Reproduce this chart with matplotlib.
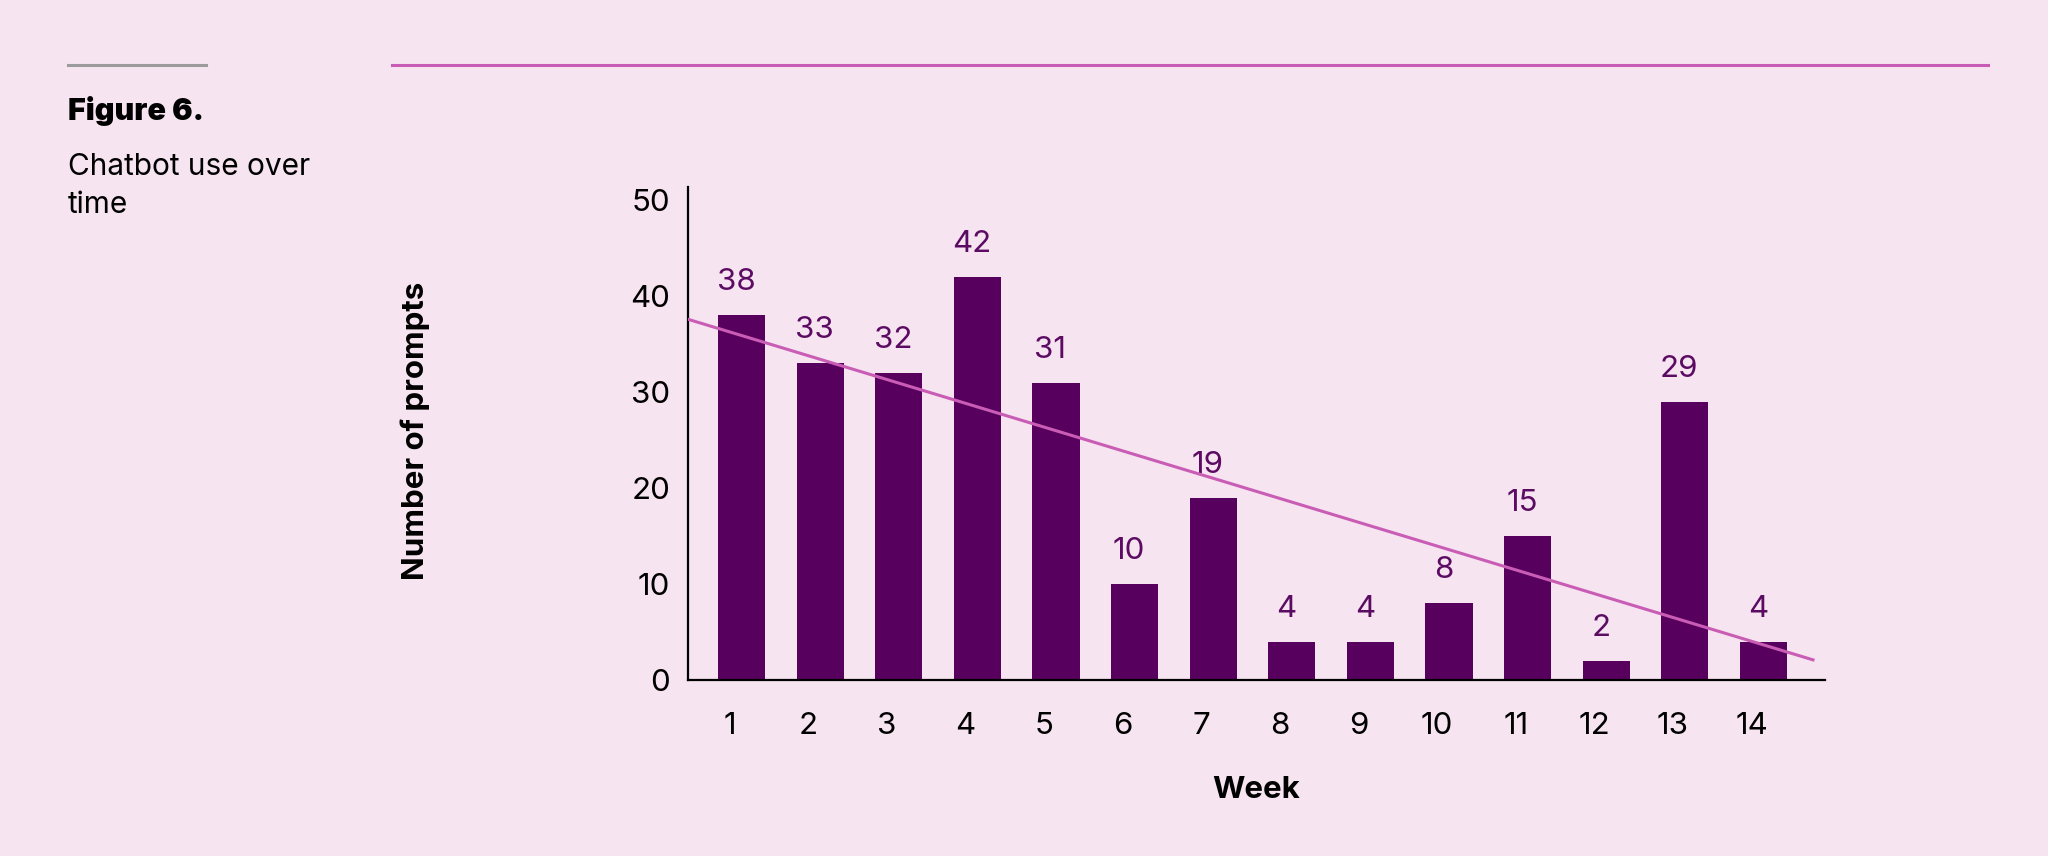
import numpy as np
import matplotlib.pyplot as plt

# Data
weeks = np.arange(1, 15)
prompts = [38, 33, 32, 42, 31, 10, 19, 4, 4, 8, 15, 2, 29, 4]
ytick_vals = [0, 10, 20, 30, 40, 50]
# trend line ends
trend_x = [0.32, 14.63]
trend_y = [37.6, 2.1]

# Colours
bg = "#F6E4F0"
bar_color = "#58005E"
label_color = "#5C0B63"
trend_color = "#C95DB5"
grey_rule = "#9B9B9B"

plt.rcParams['font.family'] = ['Inter', 'DejaVu Sans']
fs = 22.5

fig = plt.figure(figsize=(20.48, 8.56), dpi=100, facecolor=bg)
ax = fig.add_axes([0.336, 0.2056, 0.555, 0.576])
ax.set_facecolor(bg)

ax.bar(weeks, prompts, width=0.6, color=bar_color, zorder=2)

# Value labels above bars
for w, v in zip(weeks, prompts):
    ax.annotate(str(v), (w, v), xytext=(-4, 18), textcoords="offset points",
                ha="center", va="baseline", fontsize=fs, color=label_color)

ax.plot(trend_x, trend_y, color=trend_color, lw=2.2, zorder=3)

ax.set_xlim(0.32, 14.78)
ax.set_ylim(0, 51.4)
ax.set_xticks(weeks - 0.15)
ax.set_xticklabels([str(w) for w in weeks])
ax.set_yticks(ytick_vals)
ax.tick_params(axis="x", length=0, pad=23, labelsize=fs)
ax.tick_params(axis="y", length=0, pad=13, labelsize=fs)

for s in ["top", "right"]:
    ax.spines[s].set_visible(False)
for s in ["left", "bottom"]:
    ax.spines[s].set_linewidth(1.6)
    ax.spines[s].set_color("black")

# Axis titles placed in figure pixels
fig.text(1256 / 2048, 1 - 790 / 856, "Week", ha="center", va="center",
         fontsize=fs, fontweight="bold")
fig.text(415 / 2048, 1 - 431 / 856, "Number of prompts", ha="center", va="center",
         rotation=90, fontsize=fs, fontweight="bold")

# Header rules and caption
fig.add_artist(plt.Line2D([68 / 2048, 206 / 2048], [1 - 65 / 856] * 2,
                          color=grey_rule, lw=2.2))
fig.add_artist(plt.Line2D([392 / 2048, 1988 / 2048], [1 - 65 / 856] * 2,
                          color=trend_color, lw=2.2))
fig.text(68 / 2048, 1 - 111 / 856, "Figure 6.", ha="left", va="center",
         fontsize=22, fontweight="black")
fig.text(68 / 2048, 1 - 167 / 856, "Chatbot use over", ha="left", va="center",
         fontsize=21.5)
fig.text(68 / 2048, 1 - 205 / 856, "time", ha="left", va="center", fontsize=21.5)

fig.savefig("out.png", dpi=100, facecolor=bg)
